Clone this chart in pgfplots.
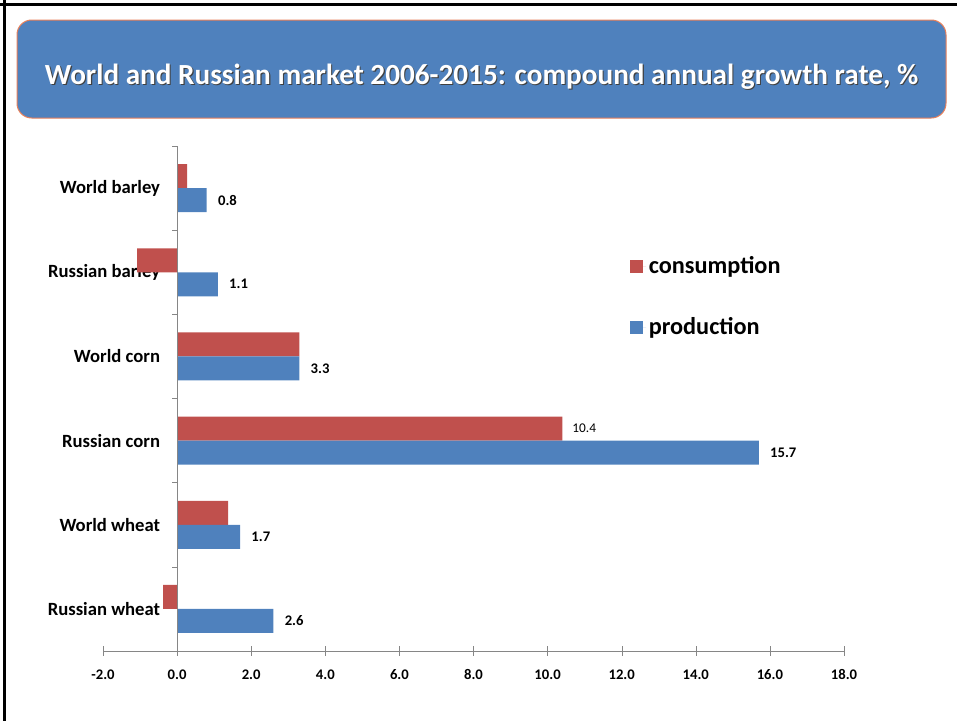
\documentclass[border=0pt]{standalone}
\usepackage{fontspec}
\setmainfont{Carlito}
\usepackage{pgfplots}
\pgfplotsset{compat=1.18}
\definecolor{cRed}{HTML}{C0504D}
\definecolor{cBlue}{HTML}{4F81BD}
\definecolor{cAxis}{HTML}{868686}
\definecolor{cBorder}{HTML}{E9805A}
\begin{document}
\begin{tikzpicture}
\path[use as bounding box] (0,0) rectangle (717.75pt,-540.75pt);
\draw[black, line width=2.25pt] (0,-3.4pt) -- (717.75pt,-3.4pt);
\draw[black, line width=2.25pt] (3.4pt,0) -- (3.4pt,-540.75pt);
\draw[cBorder, fill=cBlue, line width=0.75pt, rounded corners=11pt] (12.75pt,-15pt) rectangle (709.5pt,-88.5pt);
\node[text=black!75, font=\bfseries\fontsize{21.9}{26}\selectfont] at (362pt,-58.3pt) {World and Russian market 2006-2015: compound annual growth rate, \%};
\node[text=white, font=\bfseries\fontsize{21.9}{26}\selectfont] at (361.2pt,-57.5pt) {World and Russian market 2006-2015: compound annual growth rate, \%};
\begin{axis}[
  at={(77.25pt,-488.25pt)}, anchor=south west,
  scale only axis, width=555.75pt, height=378.75pt,
  xmin=-2, xmax=18, ymin=-0.5, ymax=5.5,
  xbar, bar width=18pt,
  axis x line*=bottom, axis y line*=left,
  x axis line style={cAxis, -},
  y axis line style={draw=none},
  xtick={-2,0,...,18},
  xtick style={cAxis},
  major tick length=7pt,
  tick align=center,
  /pgf/number format/assume math mode=true,
  xticklabel={\pgfmathprintnumber[fixed,fixed zerofill,precision=1]{\tick}},
  xticklabel style={font=\bfseries\fontsize{11}{13}\selectfont, anchor=base, yshift=-17.5pt},
  ytick={0,1,2,3,4,5},
  yticklabels={Russian wheat, World wheat, Russian corn, World corn, Russian barley, World barley},
  ytick style={draw=none},
  yticklabel style={font=\bfseries\fontsize{14}{16}\selectfont, anchor=east, inner sep=0pt, xshift=46.5pt},
  clip=false,
  legend style={at={(axis cs:12.22,4.22)}, anchor=north west, draw=none, fill=none, inner sep=0pt,
    font=\bfseries\fontsize{18.2}{21}\selectfont, row sep=27.5pt},
  legend cell align=left,
  legend image code/.code={\fill[#1] (0pt,-4.9pt) rectangle (9.75pt,4.9pt); \path (9.75pt,0) -- (12pt,0);},
]
\addplot[fill=cRed, draw=none, bar shift=9pt,
  point meta=explicit symbolic, nodes near coords,
  nodes near coords style={font=\fontsize{10}{12}\selectfont, anchor=west, xshift=4pt}]
  coordinates {(0.27,5) [{}] (-1.08,4) [{}] (3.3,3) [{}] (10.4,2) [10.4] (1.38,1) [{}] (-0.38,0) [{}]};
\addplot[fill=cBlue, draw=none, bar shift=-9pt,
  point meta=explicit symbolic, nodes near coords,
  nodes near coords style={font=\bfseries\fontsize{11}{13}\selectfont, anchor=west, xshift=5pt}]
  coordinates {(0.8,5) [0.8] (1.1,4) [1.1] (3.3,3) [3.3] (15.7,2) [15.7] (1.7,1) [1.7] (2.6,0) [2.6]};
\legend{consumption, production}
\draw[cAxis] (axis cs:0,-0.5) -- (axis cs:0,5.5);
\pgfplotsinvokeforeach{0.5,1.5,2.5,3.5,4.5,5.5}{\draw[cAxis] (axis cs:0,#1) -- ([xshift=-4pt]axis cs:0,#1);}
\end{axis}
\end{tikzpicture}
\end{document}
